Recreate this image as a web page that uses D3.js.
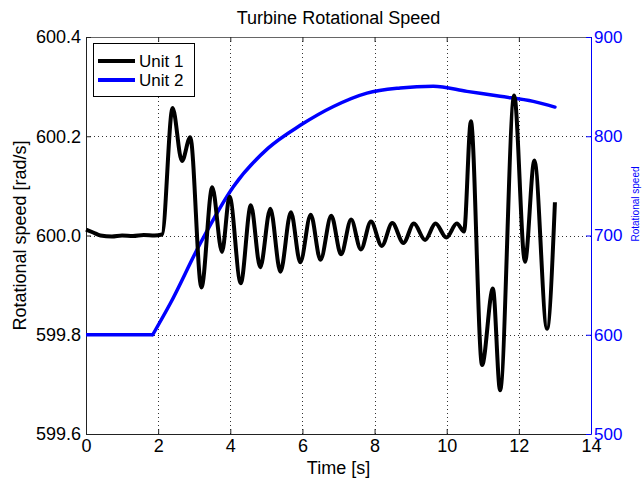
<!DOCTYPE html>
<html>
<head>
<meta charset="utf-8">
<script src="https://cdn.jsdelivr.net/npm/d3@7"></script>
<style>
  body { margin: 0; background: #fff; }
  svg text { font-family: "Liberation Sans", Arial, Helvetica, sans-serif; }
  .grid line { stroke: #333; stroke-dasharray: 1,3; stroke-width: 1; }
</style>
</head>
<body>
<svg id="chart" width="644" height="485"></svg>
<script>
// unit 1 (left axis, rad/s)
var unit1Time = [0, 0.2, 0.4, 0.72, 1.0, 1.3, 1.6, 1.9, 2.11, 2.40, 2.66, 2.89, 3.20, 3.50,
  3.77, 3.98, 4.29, 4.57, 4.83, 5.11, 5.39, 5.68, 5.94, 6.23, 6.50, 6.80, 7.07, 7.35, 7.62,
  7.90, 8.20, 8.49, 8.80, 9.09, 9.40, 9.69, 9.99, 10.28, 10.48, 10.67, 10.98, 11.28, 11.48,
  11.87, 12.17, 12.43, 12.78, 13.0];
var unit1Speed = [600.012, 600.006, 600.0, 599.998, 600.0, 599.999, 600.001, 600.0, 600.002,
  600.257, 600.150, 600.198, 599.895, 600.097, 599.967, 600.078, 599.904, 600.061, 599.936,
  600.054, 599.927, 600.047, 599.946, 600.042, 599.951, 600.040, 599.962, 600.032, 599.972,
  600.028, 599.979, 600.025, 599.985, 600.024, 599.991, 600.024, 599.996, 600.024, 600.008,
  600.230, 599.739, 599.893, 599.688, 600.282, 599.947, 600.151, 599.812, 600.067];

// unit 2 (right axis)
var unit2Time = [0, 1.85, 2.34, 3.17, 4.09, 5.05, 5.94, 6.86, 7.79, 8.71, 9.63, 10.56, 11.48, 12.4, 13.0];
var unit2Speed = [600, 600, 631.7, 692.2, 749.4, 788, 811, 830, 843.5, 848.6, 850.3, 845.2, 840.2, 835.1, 829.4];

var xTicks = [0, 2, 4, 6, 8, 10, 12, 14];
var leftTicks = [599.6, 599.8, 600, 600.2, 600.4];
var rightTicks = [500, 600, 700, 800, 900];

var plot = { left: 86, right: 591, top: 37, bottom: 434 };
var blue = "#0000ff";

var svg = d3.select("#chart");

var x = d3.scaleLinear().domain([0, 14]).range([plot.left, plot.right]);
var yL = d3.scaleLinear().domain([599.6, 600.4]).range([plot.bottom, plot.top]);
var yR = d3.scaleLinear().domain([500, 900]).range([plot.bottom, plot.top]);

// dotted grid
var grid = svg.append("g").classed("grid", true);
grid.selectAll("line.gx")
  .data(xTicks.slice(1, -1))
  .enter().append("line")
  .attr("x1", function(d) { return Math.round(x(d)) + 0.5; })
  .attr("x2", function(d) { return Math.round(x(d)) + 0.5; })
  .attr("y1", plot.top)
  .attr("y2", plot.bottom);
grid.selectAll("line.gy")
  .data(leftTicks.slice(1, -1))
  .enter().append("line")
  .attr("x1", plot.left)
  .attr("x2", plot.right)
  .attr("y1", function(d) { return Math.round(yL(d)) + 0.5; })
  .attr("y2", function(d) { return Math.round(yL(d)) + 0.5; });

// axes, ticks pointing inward like matlab
var fmtL = function(d) { return d3.format(".1f")(d); };
var gBottom = svg.append("g")
  .attr("transform", "translate(0," + plot.bottom + ")")
  .call(d3.axisBottom(x).tickValues(xTicks).tickSizeInner(-5).tickSizeOuter(0).tickPadding(5).tickFormat(d3.format("d")));
var gTop = svg.append("g")
  .attr("transform", "translate(0," + plot.top + ")")
  .call(d3.axisTop(x).tickValues(xTicks).tickSizeInner(-5).tickSizeOuter(0).tickFormat(""));
var gLeft = svg.append("g")
  .attr("transform", "translate(" + plot.left + ",0)")
  .call(d3.axisLeft(yL).tickValues(leftTicks).tickSizeInner(-5).tickSizeOuter(0).tickPadding(5).tickFormat(fmtL));
var gRight = svg.append("g")
  .attr("transform", "translate(" + plot.right + ",0)")
  .call(d3.axisRight(yR).tickValues(rightTicks).tickSizeInner(-5).tickSizeOuter(0).tickPadding(3).tickFormat(d3.format("d")));

[gBottom, gTop, gLeft].forEach(function(g) {
  g.selectAll("path, line").attr("stroke", "#222");
  g.selectAll("text").attr("font-size", 18).attr("fill", "#000")
    .attr("font-family", "Liberation Sans, Arial, sans-serif");
});
gTop.select("path").attr("stroke", "#666");
gRight.selectAll("path, line").attr("stroke", blue);
gRight.selectAll("text").attr("font-size", 17).attr("fill", blue)
  .attr("font-family", "Liberation Sans, Arial, sans-serif");

// lines
var line1 = d3.line()
  .curve(d3.curveMonotoneX)
  .x(function(d) { return x(d[0]); })
  .y(function(d) { return yL(d[1]); });
var line2 = d3.line()
  .x(function(d) { return x(d[0]); })
  .y(function(d) { return yR(d[1]); });
var line2Smooth = d3.line()
  .curve(d3.curveMonotoneX)
  .x(function(d) { return x(d[0]); })
  .y(function(d) { return yR(d[1]); });

var pts2 = unit2Time.map(function(t, i) { return [t, unit2Speed[i]]; });
svg.append("path")
  .attr("d", line2(pts2.slice(0, 2)))
  .attr("fill", "none").attr("stroke", blue).attr("stroke-width", 3.5);
svg.append("path")
  .attr("d", line2Smooth(pts2.slice(1)))
  .attr("fill", "none").attr("stroke", blue).attr("stroke-width", 3.5)
  .attr("stroke-linecap", "round");

var pts1 = unit1Time.map(function(t, i) { return [t, unit1Speed[i]]; });
svg.append("path")
  .attr("d", line1(pts1))
  .attr("fill", "none").attr("stroke", "#000").attr("stroke-width", 4)
  .attr("stroke-linejoin", "round");

// legend
var legend = svg.append("g");
legend.append("rect")
  .attr("x", 93.5).attr("y", 43.5).attr("width", 101).attr("height", 53)
  .attr("fill", "#fff").attr("stroke", "#000").attr("stroke-width", 1);
var legendItems = [
  { name: "Unit 1", color: "#000", y: 61 },
  { name: "Unit 2", color: blue, y: 80 }
];
legendItems.forEach(function(item) {
  legend.append("line")
    .attr("x1", 98).attr("x2", 135).attr("y1", item.y).attr("y2", item.y)
    .attr("stroke", item.color).attr("stroke-width", 4);
  legend.append("text")
    .attr("x", 139).attr("y", item.y).attr("dy", "0.36em")
    .attr("font-size", 17).text(item.name);
});

// titles
svg.append("text")
  .attr("x", (plot.left + plot.right) / 2).attr("y", 24)
  .attr("text-anchor", "middle").attr("font-size", 18)
  .text("Turbine Rotational Speed");
svg.append("text")
  .attr("x", (plot.left + plot.right) / 2).attr("y", 474)
  .attr("text-anchor", "middle").attr("font-size", 18)
  .text("Time [s]");
svg.append("text")
  .attr("transform", "translate(26," + ((plot.top + plot.bottom) / 2) + ") rotate(-90)")
  .attr("text-anchor", "middle").attr("font-size", 18)
  .text("Rotational speed [rad/s]");
svg.append("text")
  .attr("transform", "translate(639,204) rotate(-90)")
  .attr("text-anchor", "middle").attr("font-size", 10).attr("fill", blue)
  .text("Rotational speed");
</script>
</body>
</html>
